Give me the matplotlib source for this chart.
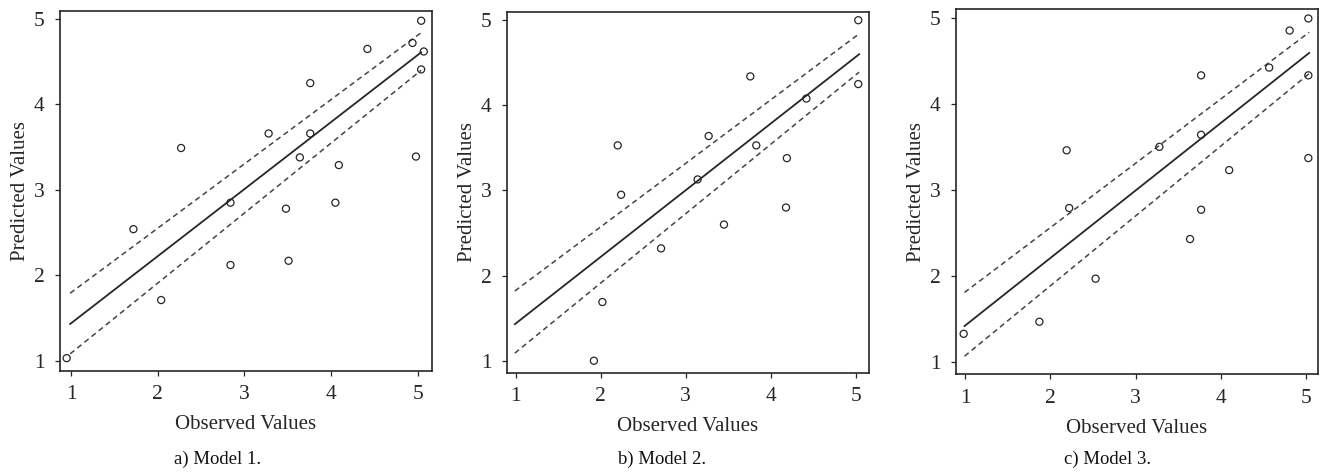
import numpy as np
import matplotlib
matplotlib.use("Agg")
import matplotlib.pyplot as plt

plt.rcParams['font.family'] = ['Liberation Serif', 'DejaVu Serif']

# observed / predicted values
obs1 = [5.04, 4.94, 5.07, 5.04, 4.42, 3.76, 3.28, 3.76, 2.27, 3.64,
        4.98, 4.09, 2.84, 4.05, 3.48, 1.72, 2.84, 3.51, 2.04, 0.95]
pred1 = [4.98, 4.72, 4.62, 4.41, 4.65, 4.25, 3.66, 3.66, 3.49, 3.38,
         3.39, 3.29, 2.85, 2.85, 2.78, 2.54, 2.12, 2.17, 1.71, 1.03]

obs2 = [5.03, 5.03, 3.76, 4.42, 3.27, 2.20, 3.83, 4.19, 2.24, 3.14,
        4.18, 3.45, 2.71, 2.02, 1.92]
pred2 = [5.00, 4.25, 4.34, 4.08, 3.64, 3.53, 3.53, 3.38, 2.95, 3.13,
         2.80, 2.60, 2.32, 1.69, 1.00]

obs3 = [5.03, 4.81, 4.57, 5.03, 3.77, 3.28, 3.77, 2.19, 5.03, 4.10,
        2.22, 3.77, 3.64, 2.53, 1.87, 0.98]
pred3 = [4.99, 4.85, 4.42, 4.33, 4.33, 3.50, 3.64, 3.46, 3.37, 3.23,
         2.79, 2.77, 2.43, 1.97, 1.47, 1.33]

# fitted line and confidence band end points (start, end)
fit_x = [0.99, 5.04]
fit1 = [1.43, 4.61]
upper1 = [1.79, 4.84]
lower1 = [1.08, 4.40]
fit2 = [1.43, 4.60]
upper2 = [1.82, 4.84]
lower2 = [1.09, 4.39]
fit3 = [1.42, 4.59]
upper3 = [1.81, 4.83]
lower3 = [1.07, 4.35]

captions = ["a) Model 1.", "b) Model 2.", "c) Model 3."]
ticks = [1, 2, 3, 4, 5]

W, H = 1321, 472
fig = plt.figure(figsize=(W / 100, H / 100), dpi=100)

# axes boxes in pixels: left, right, top, bottom
boxes = [(60, 432, 11, 370.7), (506.7, 869.3, 11.7, 372.7), (956, 1317.7, 9, 374.3)]
limits = [((0.873, 5.165), (0.883, 5.094)),
          ((0.894, 5.16), (0.86, 5.10)),
          ((0.89, 5.14), (0.86, 5.10))]
cap_x = [218, 662, 1108]

panels = [(obs1, pred1, fit1, upper1, lower1),
          (obs2, pred2, fit2, upper2, lower2),
          (obs3, pred3, fit3, upper3, lower3)]

ink = '#262626'
for i, (obs, pred, fit, up, lo) in enumerate(panels):
    l, r, t, b = boxes[i]
    ax = fig.add_axes([l / W, 1 - b / H, (r - l) / W, (b - t) / H])
    ax.plot(fit_x, fit, color=ink, lw=1.3)
    ax.plot(fit_x, up, color='#444444', lw=1.1, dashes=(3.5, 2.5))
    ax.plot(fit_x, lo, color='#444444', lw=1.1, dashes=(3.5, 2.5))
    ax.scatter(obs, pred, s=26, facecolors='none', edgecolors=ink, linewidths=0.9, zorder=3)
    ax.set_xlim(*limits[i][0])
    ax.set_ylim(*limits[i][1])
    ax.set_xticks(ticks)
    ax.set_yticks(ticks)
    ax.tick_params(direction='out', length=3.5, width=0.9, color=ink,
                   labelsize=15.5, labelcolor=ink)
    ax.tick_params(axis='x', pad=7)
    ax.tick_params(axis='y', pad=7.5)
    for sp in ax.spines.values():
        sp.set_color(ink)
        sp.set_linewidth(1.2)
    ax.set_xlabel("Observed Values", fontsize=15, color=ink, labelpad=8)
    ax.set_ylabel("Predicted Values", fontsize=15, color=ink, labelpad=3)
    fig.text(cap_x[i] / W, 1 - 459 / H, captions[i], ha='center', va='center',
             fontsize=13.5, color='#111111')

fig.savefig("out.png", dpi=100)
